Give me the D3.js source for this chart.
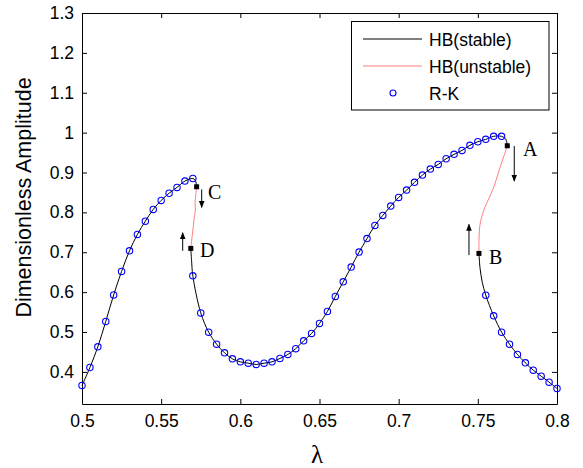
<!DOCTYPE html>
<html>
<head>
<meta charset="utf-8">
<script src="https://cdn.jsdelivr.net/npm/d3@7"></script>
<style>
  html, body { margin: 0; padding: 0; background: #fff; }
  svg { display: block; }
</style>
</head>
<body>
<svg id="chart" width="583" height="468"></svg>
<script>
// ---------------- data ----------------
const xTicks = [0.5, 0.55, 0.6, 0.65, 0.7, 0.75, 0.8];
const yTicks = [0.4, 0.5, 0.6, 0.7, 0.8, 0.9, 1.0, 1.1, 1.2, 1.3];

// R-K (Runge-Kutta) points
const rkX = [
  0.5, 0.505, 0.51, 0.515, 0.52, 0.525, 0.53, 0.535, 0.54, 0.545, 0.55, 0.555, 0.56, 0.565, 0.57,
  0.57, 0.575, 0.58, 0.585, 0.59, 0.595, 0.6, 0.605, 0.61, 0.615, 0.62, 0.625, 0.63, 0.635, 0.64,
  0.645, 0.65, 0.655, 0.66, 0.665, 0.67, 0.675, 0.68, 0.685, 0.69, 0.695, 0.7, 0.705, 0.71, 0.715,
  0.72, 0.725, 0.73, 0.735, 0.74, 0.745, 0.75, 0.755, 0.76, 0.765,
  0.755, 0.76, 0.765, 0.77, 0.775, 0.78, 0.785, 0.79, 0.795, 0.8
];
const rkY = [
  0.366, 0.411, 0.463, 0.5265, 0.593, 0.652, 0.7037, 0.7448, 0.778, 0.8075, 0.830, 0.848, 0.8627, 0.8785, 0.885,
  0.641, 0.548, 0.4997, 0.4696, 0.4478, 0.4327, 0.4252, 0.4219, 0.4187, 0.4219, 0.4252, 0.4337, 0.4438, 0.4583, 0.4779,
  0.4964, 0.5215, 0.5516, 0.5893, 0.6259, 0.6628, 0.7004, 0.7343, 0.7674, 0.7925, 0.8158, 0.8376, 0.8559, 0.8753, 0.8936,
  0.9086, 0.9204, 0.9345, 0.9455, 0.9555, 0.9681, 0.9771, 0.9831, 0.9907, 0.9907,
  0.5925, 0.5406, 0.4997, 0.4696, 0.4438, 0.4227, 0.4044, 0.3893, 0.3743, 0.3585
];

// HB stable branches
const stable1X = [0.5, 0.505, 0.51, 0.515, 0.52, 0.525, 0.53, 0.535, 0.54, 0.545, 0.55, 0.555, 0.56, 0.565, 0.57, 0.5716, 0.5724];
const stable1Y = [0.366, 0.411, 0.463, 0.5265, 0.593, 0.652, 0.7037, 0.7448, 0.778, 0.8075, 0.830, 0.848, 0.8627, 0.8785, 0.885, 0.880, 0.8642];
const stable2X = [0.5687, 0.5692, 0.57, 0.575, 0.58, 0.585, 0.59, 0.595, 0.6, 0.605, 0.61, 0.615, 0.62, 0.625, 0.63, 0.635, 0.64,
  0.645, 0.65, 0.655, 0.66, 0.665, 0.67, 0.675, 0.68, 0.685, 0.69, 0.695, 0.7, 0.705, 0.71, 0.715,
  0.72, 0.725, 0.73, 0.735, 0.74, 0.745, 0.75, 0.755, 0.76, 0.765, 0.7676, 0.7686];
const stable2Y = [0.7097, 0.68, 0.641, 0.548, 0.4997, 0.4696, 0.4478, 0.4327, 0.4252, 0.4219, 0.4187, 0.4219, 0.4252, 0.4337, 0.4438, 0.4583, 0.4779,
  0.4964, 0.5215, 0.5516, 0.5893, 0.6259, 0.6628, 0.7004, 0.7343, 0.7674, 0.7925, 0.8158, 0.8376, 0.8559, 0.8753, 0.8936,
  0.9086, 0.9204, 0.9345, 0.9455, 0.9555, 0.9681, 0.9771, 0.9831, 0.9907, 0.9907, 0.984, 0.9671];
const stable3X = [0.7507, 0.7514, 0.7528, 0.755, 0.76, 0.765, 0.77, 0.775, 0.78, 0.785, 0.79, 0.795, 0.8];
const stable3Y = [0.6971, 0.66, 0.625, 0.5925, 0.5406, 0.4997, 0.4696, 0.4438, 0.4227, 0.4044, 0.3893, 0.3743, 0.3585];

// HB unstable branches
const unstable1X = [0.5724, 0.5719, 0.5714, 0.5716, 0.5708, 0.5703, 0.5698, 0.5694, 0.5690, 0.5687];
const unstable1Y = [0.8642, 0.845, 0.825, 0.805, 0.785, 0.765, 0.748, 0.735, 0.72, 0.7097];
const unstable2X = [0.7686, 0.7668, 0.7648, 0.7626, 0.7603, 0.7579, 0.7556, 0.7537, 0.7523, 0.7513, 0.7509, 0.7507, 0.7507];
const unstable2Y = [0.9671, 0.945, 0.922, 0.895, 0.866, 0.843, 0.823, 0.805, 0.787, 0.768, 0.748, 0.725, 0.6971];

// bifurcation points and annotations
const ptLabels = ["C", "D", "A", "B"];
const ptX = [0.5724, 0.5687, 0.7686, 0.7507];
const ptY = [0.8642, 0.7097, 0.9671, 0.6971];
const labX = [0.5796, 0.5745, 0.7785, 0.757];
const labY = [0.8334, 0.689, 0.9412, 0.6703];
const arrowX = [0.5756, 0.5636, 0.773, 0.7444];
const arrowY1 = [0.8577, 0.7037, 0.9663, 0.6929];
const arrowY2 = [0.8125, 0.7488, 0.8785, 0.7699];

const legendLabels = ["HB(stable)", "HB(unstable)", "R-K"];

// ---------------- layout ----------------
const W = 583, H = 468;
const L = 82, R = 557, T = 13, B = 404;
const svg = d3.select("#chart");
const x = d3.scaleLinear().domain([0.5, 0.8]).range([L, R]);
const y = d3.scaleLinear().domain([0.3195, 1.3]).range([B, T]);

const FONT = "'Liberation Sans', Arial, Helvetica, sans-serif";
const SERIF = "'Liberation Serif', 'Times New Roman', serif";

svg.append("defs").append("marker")
  .attr("id", "ah").attr("viewBox", "0 0 10 10")
  .attr("refX", 9).attr("refY", 5)
  .attr("markerWidth", 7).attr("markerHeight", 9)
  .attr("markerUnits", "userSpaceOnUse")
  .attr("orient", "auto")
  .append("path").attr("d", "M0,1 L10,5 L0,9 Z").attr("fill", "#000");

// axes
const fmt = d => String(+d.toFixed(2));
const gx = svg.append("g").attr("transform", `translate(0,${B})`)
  .call(d3.axisBottom(x).tickValues(xTicks).tickFormat(fmt).tickSizeInner(-5).tickSizeOuter(0).tickPadding(11));
const gy = svg.append("g").attr("transform", `translate(${L},0)`)
  .call(d3.axisLeft(y).tickValues(yTicks).tickFormat(fmt).tickSizeInner(-5).tickSizeOuter(0).tickPadding(8));
const gt = svg.append("g").attr("transform", `translate(0,${T})`)
  .call(d3.axisTop(x).tickValues(xTicks).tickFormat("").tickSizeInner(-5).tickSizeOuter(0));
const gr = svg.append("g").attr("transform", `translate(${R},0)`)
  .call(d3.axisRight(y).tickValues(yTicks).tickFormat("").tickSizeInner(-5).tickSizeOuter(0));
[gx, gy, gt, gr].forEach(g => {
  g.selectAll("path.domain").attr("stroke", "#000").attr("stroke-width", 1);
  g.selectAll(".tick line").attr("stroke", "#000");
  g.selectAll("text").attr("font-family", FONT).attr("font-size", "17.5px").attr("fill", "#000");
});

// axis labels
svg.append("text")
  .attr("transform", `translate(31,197.5) rotate(-90)`)
  .attr("text-anchor", "middle")
  .attr("font-family", FONT).attr("font-size", "21.5px")
  .text("Dimensionless Amplitude");
svg.append("text")
  .attr("x", 317).attr("y", 463)
  .attr("text-anchor", "middle")
  .attr("font-family", SERIF).attr("font-size", "25px")
  .text("λ");

// lines
const line = d3.line().x(d => x(d[0])).y(d => y(d[1])).curve(d3.curveCatmullRom.alpha(0.5));
const zip = (a, b) => a.map((v, i) => [v, b[i]]);
const stableBranches = [zip(stable1X, stable1Y), zip(stable2X, stable2Y), zip(stable3X, stable3Y)];
const unstableBranches = [zip(unstable1X, unstable1Y), zip(unstable2X, unstable2Y)];

svg.append("g").selectAll("path").data(unstableBranches).join("path")
  .attr("d", line).attr("fill", "none").attr("stroke", "#ff7f7f").attr("stroke-width", 1);
svg.append("g").selectAll("path").data(stableBranches).join("path")
  .attr("d", line).attr("fill", "none").attr("stroke", "#000").attr("stroke-width", 1);

// R-K circles
svg.append("g").selectAll("circle").data(zip(rkX, rkY)).join("circle")
  .attr("cx", d => x(d[0])).attr("cy", d => y(d[1])).attr("r", 3.2)
  .attr("fill", "none").attr("stroke", "#0000ff").attr("stroke-width", 1.1);

// bifurcation squares
svg.append("g").selectAll("rect").data(ptX).join("rect")
  .attr("x", (d, i) => x(d) - 2.5).attr("y", (d, i) => y(ptY[i]) - 2.5)
  .attr("width", 5).attr("height", 5).attr("fill", "#000");

// arrows
svg.append("g").selectAll("line").data(arrowX).join("line")
  .attr("x1", d => x(d)).attr("x2", d => x(d))
  .attr("y1", (d, i) => y(arrowY1[i])).attr("y2", (d, i) => y(arrowY2[i]))
  .attr("stroke", "#000").attr("stroke-width", 1)
  .attr("marker-end", "url(#ah)");

// point labels
svg.append("g").selectAll("text").data(ptLabels).join("text")
  .attr("x", (d, i) => x(labX[i])).attr("y", (d, i) => y(labY[i]))
  .attr("font-family", SERIF).attr("font-size", "20px")
  .text(d => d);

// legend
const lg = svg.append("g");
lg.append("rect").attr("x", 351.5).attr("y", 21.5).attr("width", 197.5).attr("height", 88.5)
  .attr("fill", "#fff").attr("stroke", "#000").attr("stroke-width", 1);
const rowY = [39, 66, 93];
lg.append("line").attr("x1", 363).attr("x2", 422).attr("y1", rowY[0]).attr("y2", rowY[0]).attr("stroke", "#000");
lg.append("line").attr("x1", 363).attr("x2", 422).attr("y1", rowY[1]).attr("y2", rowY[1]).attr("stroke", "#ff7f7f");
lg.append("circle").attr("cx", 393).attr("cy", rowY[2]).attr("r", 3)
  .attr("fill", "none").attr("stroke", "#0000ff").attr("stroke-width", 1.1);
lg.selectAll("text").data(legendLabels).join("text")
  .attr("x", 429).attr("y", (d, i) => rowY[i] + 6.5)
  .attr("font-family", FONT).attr("font-size", "17.5px")
  .text(d => d);
</script>
</body>
</html>
